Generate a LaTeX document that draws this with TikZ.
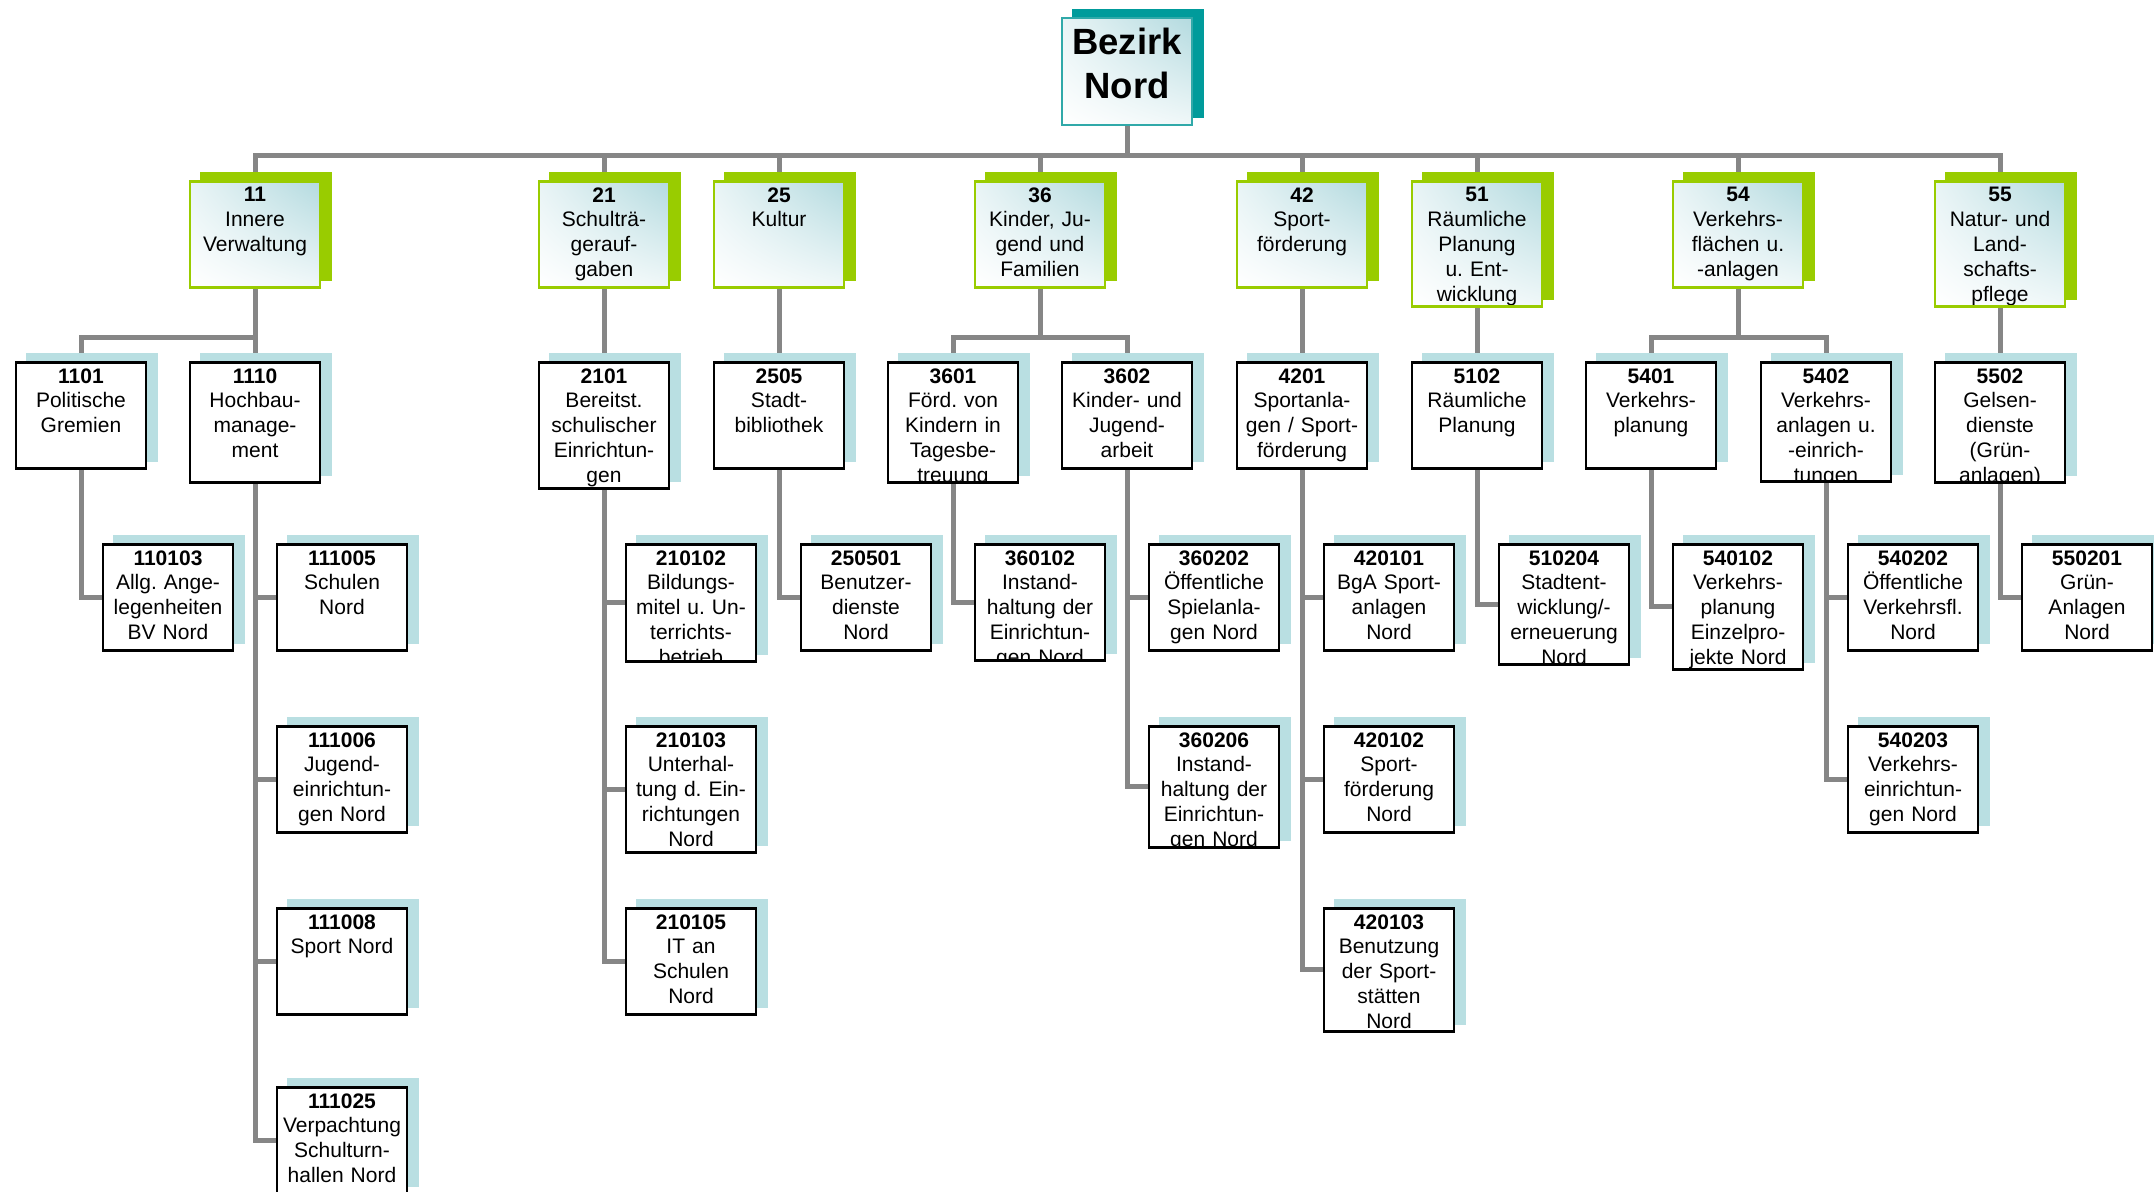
\documentclass[tikz,border=0pt]{standalone}
\usepackage{fontspec}
\setmainfont{Liberation Sans}
\usetikzlibrary{shadings}

\definecolor{linie}{HTML}{868686}
\definecolor{gruen}{HTML}{99CC00}
\definecolor{hellblau}{HTML}{B9DFE2}
\definecolor{amtblau}{HTML}{B3DADF}
\definecolor{petrol}{HTML}{009B9B}
\definecolor{kopfrand}{HTML}{30A9A9}

\pgfdeclarelayer{linien}
\pgfdeclarelayer{schatten}
\pgfsetlayers{linien,schatten,main}

\tikzset{inhalt/.style={path picture={
  \node[anchor=north,text width=128pt,align=center,inner sep=0pt,minimum width=0pt,minimum height=0pt]
    at ([yshift=-5pt]path picture bounding box.north) {#1};}}}

\begin{document}
\frenchspacing
\begin{tikzpicture}[x=1pt,y=-1pt,font=\fontsize{21}{24.8}\selectfont]
  \tikzstyle{kasten}=[rectangle,inner sep=0pt,minimum width=130pt,minimum height=106pt,anchor=north]
  \tikzstyle{bezirk}=[kasten,draw=kopfrand,line width=2pt,shade,shading=bilinear interpolation,
    upper left=amtblau!30,upper right=amtblau,lower left=white,lower right=amtblau!20,
    font=\fontsize{36.5}{44}\selectfont\bfseries]
  \tikzstyle{amt}=[kasten,draw=gruen,line width=2.5pt,shade,shading=bilinear interpolation,
    upper left=amtblau!30,upper right=amtblau,lower left=white,lower right=amtblau!20]
  \tikzstyle{einheit}=[kasten,draw=black,line width=2.5pt,fill=white]
  \tikzstyle{verbinder}=[draw=linie,line width=5pt]

  \useasboundingbox (0,0) rectangle (2154,1191);

  % Bezirk
  \node[bezirk,minimum height=107pt,inhalt={\rule{0pt}{30pt}Bezirk\\Nord}] (kopf) at (1127,17) {};

  % Fachbereiche
  \node[amt,inhalt={\textbf{11}\\Innere\\Verwaltung}] (a11) at (255,180) {};
  \node[amt,inhalt={\textbf{21}\\Schulträ-\\gerauf-\\gaben}] (a21) at (604,180) {};
  \node[amt,inhalt={\textbf{25}\\Kultur}] (a25) at (779,180) {};
  \node[amt,inhalt={\textbf{36}\\Kinder, Ju-\\gend und\\Familien}] (a36) at (1040,180) {};
  \node[amt,inhalt={\textbf{42}\\Sport-\\förderung}] (a42) at (1302,180) {};
  \node[amt,minimum height=125pt,inhalt={\textbf{51}\\Räumliche\\Planung\\u. Ent-\\wicklung}] (a51) at (1477,180) {};
  \node[amt,inhalt={\textbf{54}\\Verkehrs-\\flächen u.\\-anlagen}] (a54) at (1738,180) {};
  \node[amt,minimum height=125pt,inhalt={\textbf{55}\\Natur- und\\Land-\\schafts-\\pflege}] (a55) at (2000,180) {};

  % Produktgruppen
  \node[einheit,inhalt={\textbf{1101}\\Politische\\Gremien}] (e1101) at (81,361) {};
  \node[einheit,minimum height=120pt,inhalt={\textbf{1110}\\Hochbau-\\manage-\\ment}] (e1110) at (255,361) {};
  \node[einheit,minimum height=126pt,inhalt={\textbf{2101}\\Bereitst.\\schulischer\\Einrichtun-\\gen}] (e2101) at (604,361) {};
  \node[einheit,inhalt={\textbf{2505}\\Stadt-\\bibliothek}] (e2505) at (779,361) {};
  \node[einheit,minimum height=120pt,inhalt={\textbf{3601}\\Förd. von\\Kindern in\\Tagesbe-\\treuung}] (e3601) at (953,361) {};
  \node[einheit,inhalt={\textbf{3602}\\Kinder- und\\Jugend-\\arbeit}] (e3602) at (1127,361) {};
  \node[einheit,inhalt={\textbf{4201}\\Sportanla-\\gen / Sport-\\förderung}] (e4201) at (1302,361) {};
  \node[einheit,inhalt={\textbf{5102}\\Räumliche\\Planung}] (e5102) at (1477,361) {};
  \node[einheit,inhalt={\textbf{5401}\\Verkehrs-\\planung}] (e5401) at (1651,361) {};
  \node[einheit,minimum height=119pt,inhalt={\textbf{5402}\\Verkehrs-\\anlagen u.\\-einrich-\\tungen}] (e5402) at (1826,361) {};
  \node[einheit,minimum height=120pt,inhalt={\textbf{5502}\\Gelsen-\\dienste\\(Grün-\\anlagen)}] (e5502) at (2000,361) {};

  % Produkte
  \node[einheit,inhalt={\textbf{110103}\\Allg. Ange-\\legenheiten\\BV Nord}] (e110103) at (168,543) {};
  \node[einheit,inhalt={\textbf{111005}\\Schulen\\Nord}] (e111005) at (342,543) {};
  \node[einheit,inhalt={\textbf{111006}\\Jugend-\\einrichtun-\\gen Nord}] (e111006) at (342,725) {};
  \node[einheit,inhalt={\textbf{111008}\\Sport Nord}] (e111008) at (342,907) {};
  \node[einheit,inhalt={\textbf{111025}\\Verpachtung\\Schulturn-\\hallen Nord}] (e111025) at (342,1086) {};
  \node[einheit,minimum height=117pt,inhalt={\textbf{210102}\\Bildungs-\\mitel u. Un-\\terrichts-\\betrieb}] (e210102) at (691,543) {};
  \node[einheit,minimum height=126pt,inhalt={\textbf{210103}\\Unterhal-\\tung d. Ein-\\richtungen\\Nord}] (e210103) at (691,725) {};
  \node[einheit,inhalt={\textbf{210105}\\IT an\\Schulen\\Nord}] (e210105) at (691,907) {};
  \node[einheit,inhalt={\textbf{250501}\\Benutzer-\\dienste\\Nord}] (e250501) at (866,543) {};
  \node[einheit,minimum height=116pt,inhalt={\textbf{360102}\\Instand-\\haltung der\\Einrichtun-\\gen Nord}] (e360102) at (1040,543) {};
  \node[einheit,inhalt={\textbf{360202}\\Öffentliche\\Spielanla-\\gen Nord}] (e360202) at (1214,543) {};
  \node[einheit,minimum height=121pt,inhalt={\textbf{360206}\\Instand-\\haltung der\\Einrichtun-\\gen Nord}] (e360206) at (1214,725) {};
  \node[einheit,inhalt={\textbf{420101}\\BgA Sport-\\anlagen\\Nord}] (e420101) at (1389,543) {};
  \node[einheit,inhalt={\textbf{420102}\\Sport-\\förderung\\Nord}] (e420102) at (1389,725) {};
  \node[einheit,minimum height=123pt,inhalt={\textbf{420103}\\Benutzung\\der Sport-\\stätten\\Nord}] (e420103) at (1389,907) {};
  \node[einheit,minimum height=120pt,inhalt={\textbf{510204}\\Stadtent-\\wicklung/-\\erneuerung\\Nord}] (e510204) at (1564,543) {};
  \node[einheit,minimum height=125pt,inhalt={\textbf{540102}\\Verkehrs-\\planung\\Einzelpro-\\jekte Nord}] (e540102) at (1738,543) {};
  \node[einheit,inhalt={\textbf{540202}\\Öffentliche\\Verkehrsfl.\\Nord}] (e540202) at (1913,543) {};
  \node[einheit,inhalt={\textbf{540203}\\Verkehrs-\\einrichtun-\\gen Nord}] (e540203) at (1913,725) {};
  \node[einheit,inhalt={\textbf{550201}\\Grün-\\Anlagen\\Nord}] (e550201) at (2087,543) {};

  % Schatten
  \begin{pgfonlayer}{schatten}
    \fill[petrol] ([xshift=11pt,yshift=8pt]kopf.south west) rectangle ([xshift=11pt,yshift=8pt]kopf.north east);
    \foreach \n in {a11,a21,a25,a36,a42,a51,a54,a55}
      \fill[gruen] ([xshift=11pt,yshift=8pt]\n.south west) rectangle ([xshift=11pt,yshift=8pt]\n.north east);
    \foreach \n in {e1101,e1110,e2101,e2505,e3601,e3602,e4201,e5102,e5401,e5402,e5502,
        e110103,e111005,e111006,e111008,e111025,e210102,e210103,e210105,e250501,e360102,
        e360202,e360206,e420101,e420102,e420103,e510204,e540102,e540202,e540203,e550201}
      \fill[hellblau] ([xshift=11pt,yshift=8pt]\n.south west) rectangle ([xshift=11pt,yshift=8pt]\n.north east);
  \end{pgfonlayer}

  % Verbindungen
  \begin{pgfonlayer}{linien}
    \fill[white] (0,0) rectangle (2154,1191);
    \coordinate (bus) at (1127,155);
    \coordinate (zweig) at (0,337);
    \draw[verbinder] (kopf.south) -- (kopf.south |- bus);
    \draw[verbinder] (a11.north) |- (bus) -| (a55.north);
    \foreach \a in {a21,a25,a36,a42,a51,a54}
      \draw[verbinder] (\a.north) -- (\a.north |- bus);
    \foreach \von/\nach in {a11/e1110,a21/e2101,a25/e2505,a42/e4201,a51/e5102,a55/e5502}
      \draw[verbinder] (\von.south) -- (\nach.north);
    \draw[verbinder] (e1101.north) |- (a11.south |- zweig);
    \draw[verbinder] (a36.south) -- (a36.south |- zweig);
    \draw[verbinder] (e3601.north) |- (a36.south |- zweig) -| (e3602.north);
    \draw[verbinder] (a54.south) -- (a54.south |- zweig);
    \draw[verbinder] (e5401.north) |- (a54.south |- zweig) -| (e5402.north);
    \foreach \von/\nach in {e1101/e110103,e1110/e111005,e1110/e111006,e1110/e111008,
        e1110/e111025,e2101/e210102,e2101/e210103,e2101/e210105,e2505/e250501,
        e3601/e360102,e3602/e360202,e3602/e360206,e4201/e420101,e4201/e420102,
        e4201/e420103,e5102/e510204,e5401/e540102,e5402/e540202,e5402/e540203,
        e5502/e550201}
      \draw[verbinder] (\von.south) |- (\nach.west);
  \end{pgfonlayer}
\end{tikzpicture}
\end{document}
